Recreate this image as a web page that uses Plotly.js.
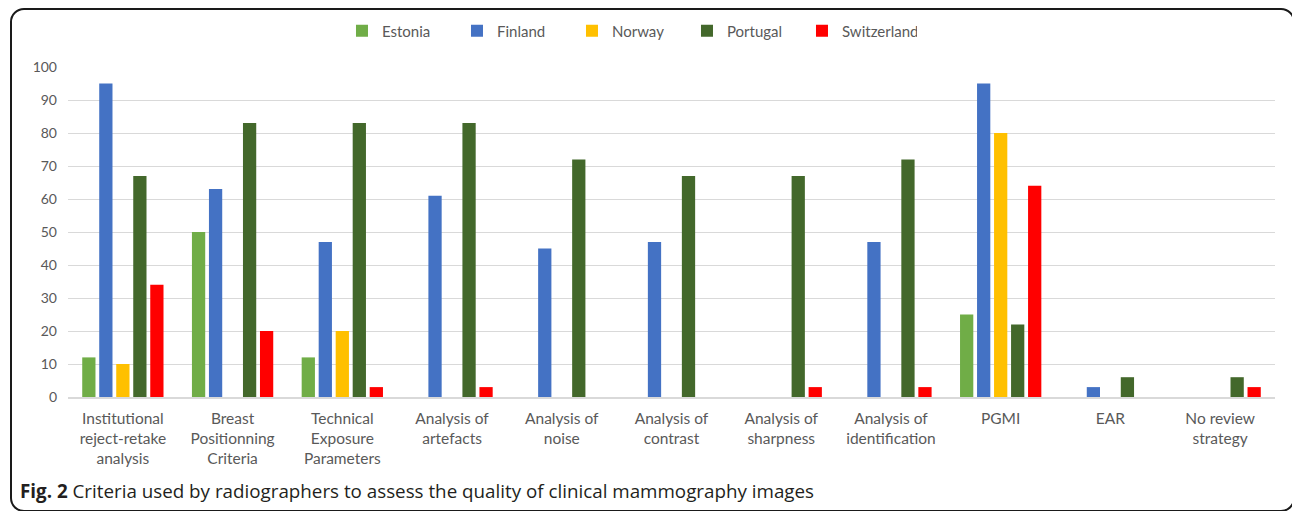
<!DOCTYPE html>
<html>
<head>
<meta charset="utf-8">
<script src="https://cdn.plot.ly/plotly-3.0.1.min.js"></script>
<style>
  html, body { margin: 0; padding: 0; background: #fff; width: 1292px; height: 511px; overflow: hidden; }
  #frame { position: absolute; left: 10px; top: 8px; width: 1281px; height: 500px; border: 2px solid #1a1a1a; border-radius: 14px; pointer-events: none; }
  #chart { position: absolute; left: 0; top: 0; width: 1292px; height: 511px; }
</style>
</head>
<body>
<div id="chart"></div>
<div id="frame"></div>
<script>
const categories = [
  "Institutional<br>reject-retake<br>analysis",
  "Breast<br>Positionning<br>Criteria",
  "Technical<br>Exposure<br>Parameters",
  "Analysis of<br>artefacts",
  "Analysis of<br>noise",
  "Analysis of<br>contrast",
  "Analysis of<br>sharpness",
  "Analysis of<br>identification",
  "PGMI",
  "EAR",
  "No review<br>strategy"
];
const estonia     = [12, 50, 12, 0, 0, 0, 0, 0, 25, 0, 0];
const finland     = [95, 63, 47, 61, 45, 47, 0, 47, 95, 3, 0];
const norway      = [10, 0, 20, 0, 0, 0, 0, 0, 80, 0, 0];
const portugal    = [67, 83, 83, 83, 72, 67, 67, 72, 22, 6, 6];
const switzerland = [34, 20, 3, 3, 0, 0, 3, 3, 64, 0, 3];
const yTicks = [0, 10, 20, 30, 40, 50, 60, 70, 80, 90, 100];

const series = [
  {name: "Estonia", y: estonia, color: "#70AD47"},
  {name: "Finland", y: finland, color: "#4472C4"},
  {name: "Norway", y: norway, color: "#FFC000"},
  {name: "Portugal", y: portugal, color: "#43682B"},
  {name: "Switzerland", y: switzerland, color: "#FF0000"}
];

const traces = series.map(s => ({
  type: "bar",
  name: s.name,
  x: categories,
  y: s.y,
  marker: {color: s.color, line: {width: 0}},
  hoverinfo: "x+y+name"
}));

const gray = "#595959";
const layout = {
  width: 1292,
  height: 511,
  margin: {l: 68, r: 17, t: 67, b: 114},
  paper_bgcolor: "#ffffff",
  plot_bgcolor: "#ffffff",
  font: {family: "Lato, 'Open Sans', sans-serif", size: 14, color: gray},
  barmode: "group",
  bargap: 0.225,
  bargroupgap: 0.22,
  showlegend: true,
  legend: {
    orientation: "h",
    x: 0.227,
    xanchor: "left",
    y: 1.109,
    yanchor: "middle",
    entrywidth: 70,
    entrywidthmode: "pixels",
    font: {family: "Lato, 'Open Sans', sans-serif", size: 15, color: gray},
    bgcolor: "rgba(0,0,0,0)",
    traceorder: "normal"
  },
  xaxis: {
    type: "category",
    showgrid: false,
    showline: true,
    linecolor: "#D9D9D9",
    linewidth: 2,
    ticks: "",
    tickfont: {family: "Lato, 'Open Sans', sans-serif", size: 15.5, color: gray},
    ticklabelstandoff: 6,
    fixedrange: true
  },
  yaxis: {
    range: [0, 100],
    tickvals: yTicks,
    ticktext: yTicks.map(String),
    showgrid: true,
    gridcolor: "#D9D9D9",
    gridwidth: 1,
    zeroline: false,
    showline: false,
    ticks: "",
    tickfont: {family: "Lato, 'Open Sans', sans-serif", size: 14, color: gray},
    ticklabelstandoff: 10,
    fixedrange: true
  },
  annotations: [{
    xref: "paper", yref: "paper",
    x: (18 - 68) / 1207,
    y: (397 - 491) / 330,
    xanchor: "left", yanchor: "middle",
    showarrow: false,
    align: "left",
    text: "<b>Fig. 2</b> Criteria used by radiographers to assess the quality of clinical mammography images",
    font: {family: "'Open Sans', sans-serif", size: 18.8, color: "#231F20"}
  }]
};

Plotly.newPlot("chart", traces, layout, {displayModeBar: false, staticPlot: true});
</script>
</body>
</html>
